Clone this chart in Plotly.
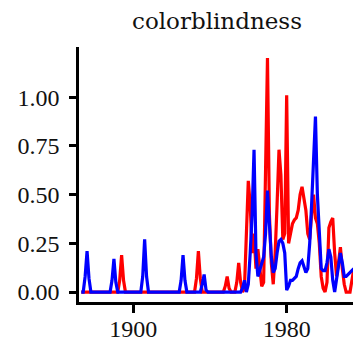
import plotly.graph_objects as go

years = list(range(1873, 2016))

blue_values = [
    0, 0, 0.08, 0.21, 0.07, 0, 0,                          # 1873-1879
    0, 0, 0, 0, 0, 0, 0, 0, 0, 0.06,                       # 1880s
    0.17, 0.05, 0, 0, 0, 0, 0, 0, 0, 0,                    # 1890s
    0, 0, 0, 0, 0, 0.08, 0.27, 0.08, 0, 0,                 # 1900s
    0, 0, 0, 0, 0, 0, 0, 0, 0, 0,                          # 1910s
    0, 0, 0, 0, 0, 0.06, 0.19, 0.06, 0, 0,                 # 1920s
    0, 0, 0, 0, 0, 0, 0.04, 0.09, 0.01, 0,                 # 1930s
    0, 0, 0, 0, 0, 0, 0, 0, 0, 0,                          # 1940s
    0, 0, 0, 0, 0, 0, 0, 0.02, 0.06, 0.0,                  # 1950s
    0.04, 0.2, 0.4, 0.73, 0.2, 0.08, 0.11, 0.14, 0.18, 0.3,  # 1960s
    0.52, 0.35, 0.18, 0.1, 0.12, 0.2, 0.26, 0.27, 0.25, 0.2,  # 1970s
    0.01, 0.03, 0.06, 0.06, 0.07, 0.08, 0.12, 0.15, 0.16, 0.13,  # 1980s
    0.1, 0.12, 0.25, 0.45, 0.7, 0.9, 0.5, 0.28, 0.12, 0.11,  # 1990s
    0.11, 0.15, 0.22, 0.18, 0.06, 0.0, 0.06, 0.12, 0.2, 0.15,  # 2000s
    0.08, 0.08, 0.09, 0.1, 0.11, 0.12,                     # 2010-2015
]

red_values = [
    0, 0, 0, 0, 0, 0, 0,                                   # 1873-1879
    0, 0, 0, 0, 0, 0, 0, 0, 0, 0,                          # 1880s
    0, 0, 0, 0.06, 0.19, 0.06, 0, 0, 0, 0,                 # 1890s
    0, 0, 0, 0, 0, 0, 0, 0, 0, 0,                          # 1900s
    0, 0, 0, 0, 0, 0, 0, 0, 0, 0,                          # 1910s
    0, 0, 0, 0, 0, 0, 0, 0, 0, 0,                          # 1920s
    0, 0, 0, 0.07, 0.21, 0.07, 0, 0, 0, 0,                 # 1930s
    0, 0, 0, 0, 0, 0, 0, 0, 0.03, 0.08,                    # 1940s
    0.02, 0, 0, 0, 0.05, 0.15, 0.05, 0, 0.02, 0.25,        # 1950s
    0.57, 0.45, 0.2, 0.3, 0.12, 0.22, 0.1, 0.03, 0.05, 0.55,  # 1960s
    1.2, 0.4, 0.15, 0.04, 0.2, 0.45, 0.73, 0.6, 0.27, 0.3,  # 1970s
    1.01, 0.25, 0.3, 0.35, 0.37, 0.38, 0.42, 0.5, 0.54, 0.48,  # 1980s
    0.42, 0.3, 0.27, 0.4, 0.5, 0.38, 0.35, 0.25, 0.08, 0.02,  # 1990s
    0.0, 0.05, 0.33, 0.36, 0.38, 0.2, 0.08, 0.15, 0.23, 0.12,  # 2000s
    0.04, 0.0, 0.0, 0.0, 0.06, 0.12,                       # 2010-2015
]

title_text = "colorblindness"
y_ticks = [0.0, 0.25, 0.5, 0.75, 1.0]
x_ticks = [1900, 1980]

fig = go.Figure()
fig.add_trace(go.Scatter(x=years, y=red_values, mode="lines",
                         line=dict(color="#ff0000", width=3.2), showlegend=False))
fig.add_trace(go.Scatter(x=years, y=blue_values, mode="lines",
                         line=dict(color="#0000ff", width=3.2), showlegend=False))

tick_font = dict(family="Liberation Serif", size=24, color="#111111")

# the page body has an 8px default margin, so the figure is sized to fit
fig.update_layout(
    width=353, height=335,
    margin=dict(l=71, r=6, t=39, b=41, autoexpand=False),
    paper_bgcolor="white", plot_bgcolor="white",
    title=dict(text=title_text, x=0.592, xanchor="center", xref="container",
               y=0.962, yanchor="middle",
               font=dict(family="DejaVu Serif", size=23, color="#111111")),
    xaxis=dict(range=[1871.8, 2015.6], tickvals=x_ticks, showgrid=False,
               zeroline=False, showline=True, linecolor="black", linewidth=2.5,
               ticks="outside", ticklen=8, tickwidth=2.5, tickcolor="black",
               tickfont=tick_font, ticklabelstandoff=-5, automargin=False),
    yaxis=dict(range=[-0.051, 1.257], tickvals=y_ticks, tickformat=".2f",
               showgrid=False, zeroline=False, showline=True, linecolor="black",
               linewidth=2.5, ticks="outside", ticklen=7, tickwidth=2.5,
               tickcolor="black", tickfont=tick_font, ticklabelstandoff=5,
               automargin=False),
)

fig.write_html("out.html")
